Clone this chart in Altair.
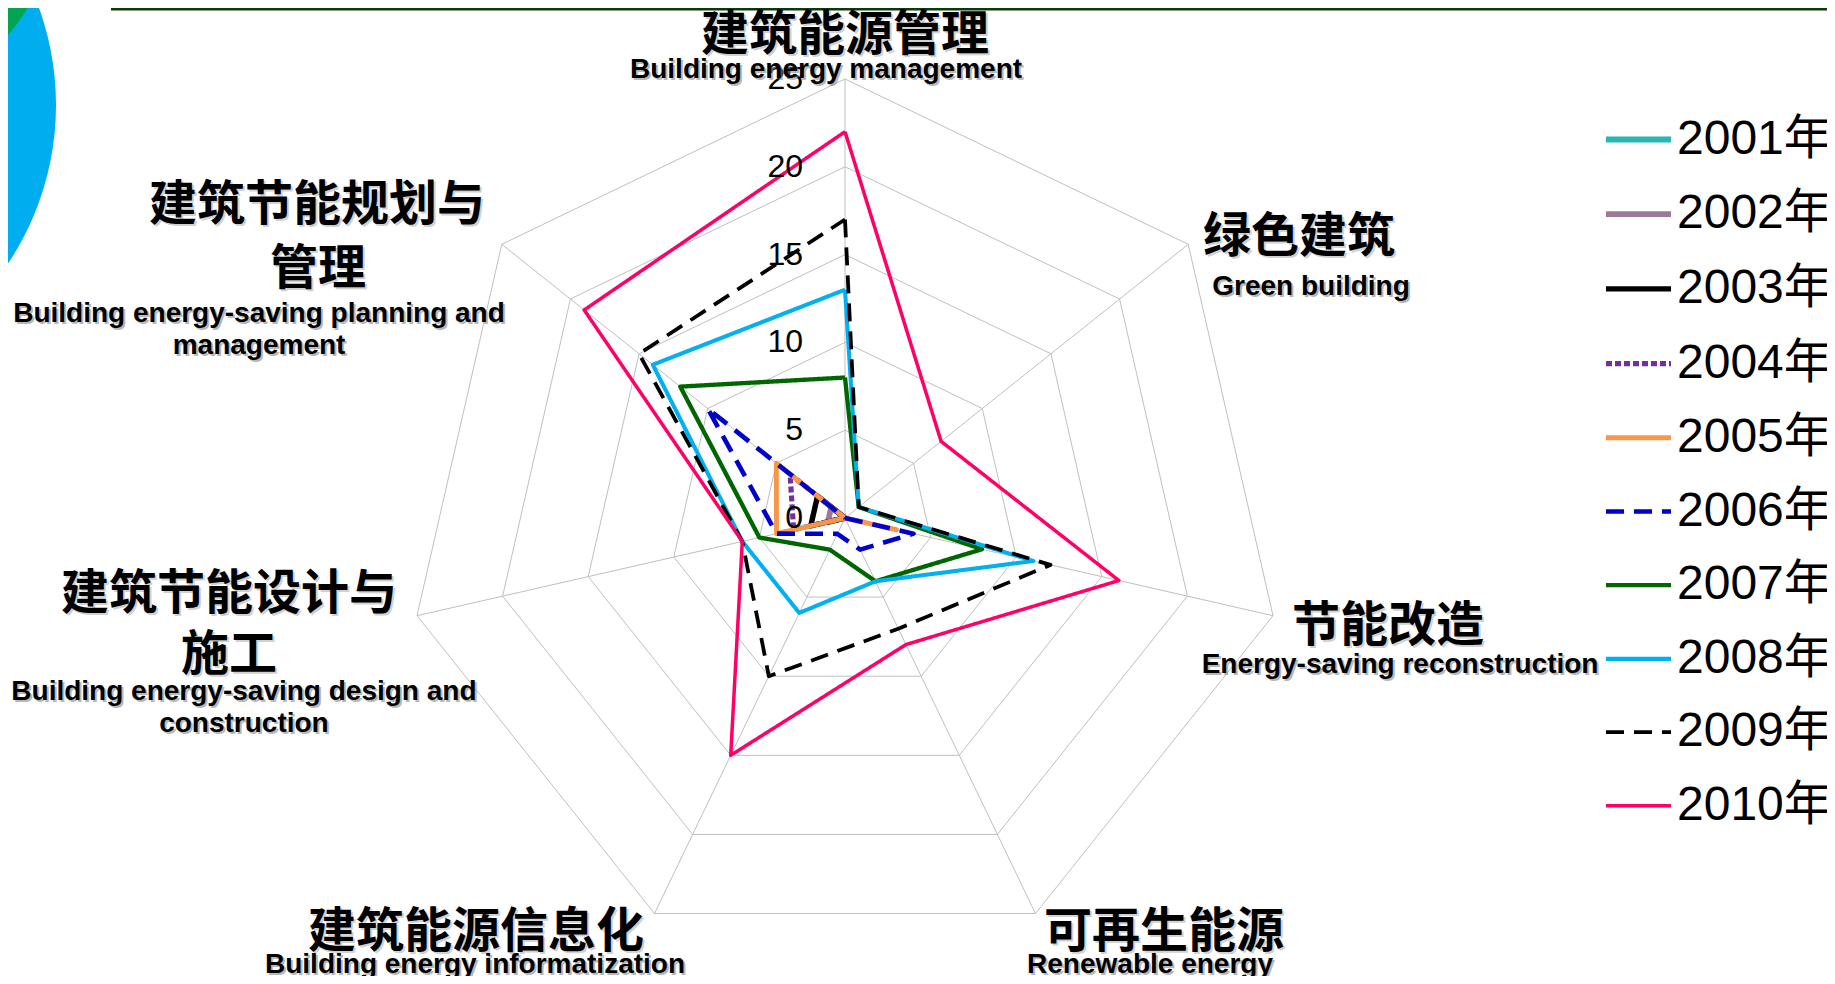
import math
import altair as alt
import pandas as pd

# ---------------- data ----------------
categories_cn = ["建筑能源管理", "绿色建筑", "节能改造", "可再生能源",
                 "建筑能源信息化", "建筑节能设计与施工", "建筑节能规划与管理"]
categories_en = ["Building energy management", "Green building",
                 "Energy-saving reconstruction", "Renewable energy",
                 "Building energy informatization",
                 "Building energy-saving design and construction",
                 "Building energy-saving planning and management"]

years = ["2001年", "2002年", "2003年", "2004年", "2005年",
         "2006年", "2007年", "2008年", "2009年", "2010年"]

v2001 = [0, 0, 0, 0, 0, 1, 0]
v2002 = [0, 0, 0, 0, 0, 1, 1]
v2003 = [0, 0, 0, 0, 0, 2, 2]
v2004 = [0, 0, 0, 0, 0, 3, 4]
v2005 = [0, 0, 3, 0, 0, 4, 5]
v2006 = [0, 0, 4, 2, 1, 4, 10]
v2007 = [8, 1, 8, 4, 2, 5, 12]
v2008 = [13, 1, 11, 4, 6, 6, 14]
v2009 = [17, 1, 12, 7, 10, 6, 15]
v2010 = [22, 7, 16, 8, 15, 6, 19]
series = [v2001, v2002, v2003, v2004, v2005, v2006, v2007, v2008, v2009, v2010]

ring_values = [5, 10, 15, 20, 25]
tick_labels = [0, 5, 10, 15, 20, 25]

# ---------------- styles ----------------
colors = ["#2BB6B6", "#9E7898", "#000000", "#7030A0", "#F79646",
          "#0000CC", "#006600", "#00B0F0", "#000000", "#FF0066"]
dashes = [[1, 0], [1, 0], [1, 0], [6, 3], [1, 0],
          [18, 10], [1, 0], [1, 0], [18, 10], [1, 0]]
widths = [6, 3.5, 4, 3, 4, 4.5, 4, 4.5, 5, 4.5]

N = len(categories_cn)
W, H = 1819, 968
PX = 17.56          # pixels per unit
CX, CY = 837, 510   # centre in plot pixels
xdom = [(0 - CX) / PX, (W - CX) / PX]
ydom = [-(H - CY) / PX, CY / PX]

xs = alt.Scale(domain=xdom, nice=False, zero=False)
ys = alt.Scale(domain=ydom, nice=False, zero=False)

# ---------------- tables ----------------
rows = []
for yi, (yr, vals) in enumerate(zip(years, series)):
    for k in range(N + 1):
        rows.append({"year": yr, "k": k, "value": vals[k % N]})
df = pd.DataFrame(rows)

ring_rows = [{"r": r, "k": k} for r in ring_values for k in range(N + 1)]
df_ring = pd.DataFrame(ring_rows)
df_spoke = pd.DataFrame({"k": list(range(N))})
df_ticks = pd.DataFrame({"t": tick_labels})

# label anchors (in radar units)
cn_lines = [("建筑能源管理", 0.0, 27.68), ("绿色建筑", 25.85, 16.17),
            ("节能改造", 30.92, -5.98), ("可再生能源", 18.17, -23.38),
            ("建筑能源信息化", -21.01, -23.38), ("建筑节能设计与", -35.08, -4.16),
            ("施工", -35.08, -7.63), ("建筑节能规划与", -30.07, 18.0),
            ("管理", -30.01, 14.35)]
en_lines = [("Building energy management", -1.08, 25.51),
            ("Green building", 26.54, 13.15),
            ("Energy-saving reconstruction", 31.61, -8.37),
            ("Renewable energy", 17.37, -25.48),
            ("Building energy informatization", -21.07, -25.48),
            ("Building energy-saving design and", -34.23, -9.91),
            ("construction", -34.23, -11.73),
            ("Building energy-saving planning and", -33.37, 11.62),
            ("management", -33.37, 9.79)]
df_cn = pd.DataFrame(cn_lines, columns=["text", "ux", "uy"])
df_en = pd.DataFrame(en_lines, columns=["text", "ux", "uy"])

ang = f"datum.k*2*PI/{N}"

# ---------------- layers ----------------
rings = alt.Chart(df_ring).mark_line(color="#BFBFBF", strokeWidth=1).transform_calculate(
    x=f"datum.r*sin({ang})", y=f"datum.r*cos({ang})"
).encode(
    x=alt.X("x:Q", scale=xs, axis=None),
    y=alt.Y("y:Q", scale=ys, axis=None),
    order="k:Q", detail="r:N"
)

spokes = alt.Chart(df_spoke).mark_rule(color="#BFBFBF", strokeWidth=1).transform_calculate(
    x0="0", y0="0", x1=f"25*sin({ang})", y1=f"25*cos({ang})"
).encode(
    x=alt.X("x0:Q", scale=xs, axis=None), y=alt.Y("y0:Q", scale=ys, axis=None),
    x2="x1:Q", y2="y1:Q"
)

leg = alt.Legend(orient="none", legendX=1595, legendY=96, title=None,
                 symbolType="stroke", symbolSize=4225, labelFontSize=48,
                 labelFont="Liberation Sans, Noto Sans CJK SC", labelColor="#000000",
                 labelOffset=3, rowPadding=14.7, padding=0, labelLimit=400)

lines = alt.Chart(df).mark_line(strokeJoin="round").transform_calculate(
    x=f"datum.value*sin({ang})", y=f"datum.value*cos({ang})"
).encode(
    x=alt.X("x:Q", scale=xs, axis=None),
    y=alt.Y("y:Q", scale=ys, axis=None),
    order="k:Q",
    color=alt.Color("year:O", scale=alt.Scale(domain=years, range=colors), legend=leg),
    strokeDash=alt.StrokeDash("year:O", scale=alt.Scale(domain=years, range=dashes), legend=leg),
    strokeWidth=alt.StrokeWidth("year:O", scale=alt.Scale(domain=years, range=widths), legend=leg),
)

ticks = alt.Chart(df_ticks).mark_text(
    align="right", baseline="middle", dx=-42, fontSize=32,
    font="Liberation Sans", color="#000000"
).transform_calculate(x0="0").encode(
    x=alt.X("x0:Q", scale=xs, axis=None), y=alt.Y("t:Q", scale=ys, axis=None),
    text="t:Q"
)

def label_layer(d, font, size, weight, color, dx=0, dy=0, opacity=1.0):
    return alt.Chart(d).mark_text(
        align="center", baseline="middle", font=font, fontSize=size,
        fontWeight=weight, color=color, dx=dx, dy=dy, opacity=opacity
    ).encode(
        x=alt.X("ux:Q", scale=xs, axis=None), y=alt.Y("uy:Q", scale=ys, axis=None),
        text="text:N"
    )

cn_font = "Noto Sans CJK SC"
en_font = "Liberation Sans"
cn_shadow = label_layer(df_cn, cn_font, 48, "bold", "#9A9A9A", 2, 6, 0.45)
cn_text = label_layer(df_cn, cn_font, 48, "bold", "#000000", 0, 4)
en_shadow = label_layer(df_en, en_font, 28, "bold", "#8A8A8A", 2, 2, 0.6)
en_text = label_layer(df_en, en_font, 28, "bold", "#000000")

# decorations (slide background)
deco_df = pd.DataFrame({"d": [0]})
blue_circ = alt.Chart(deco_df).mark_circle(color="#00AEEF", opacity=1).encode(
    x=alt.value(-238), y=alt.value(97), size=alt.value(327184))
green_circ = alt.Chart(deco_df).mark_circle(color="#00A651", opacity=1).encode(
    x=alt.value(-158), y=alt.value(-108), size=alt.value(173056))
top_line = alt.Chart(deco_df).mark_rule(color="#0A3A0A", strokeWidth=3).encode(
    x=alt.value(103), x2=alt.value(W), y=alt.value(1), y2=alt.value(1))

chart = alt.layer(
    blue_circ, green_circ, top_line, rings, spokes, lines, ticks,
    cn_shadow, cn_text, en_shadow, en_text
).properties(
    width=W, height=H, padding=0,
    autosize=alt.AutoSizeParams(type="none")
).configure_view(stroke=None)

chart.save("out.html", embed_options={"renderer": "svg", "actions": False})
